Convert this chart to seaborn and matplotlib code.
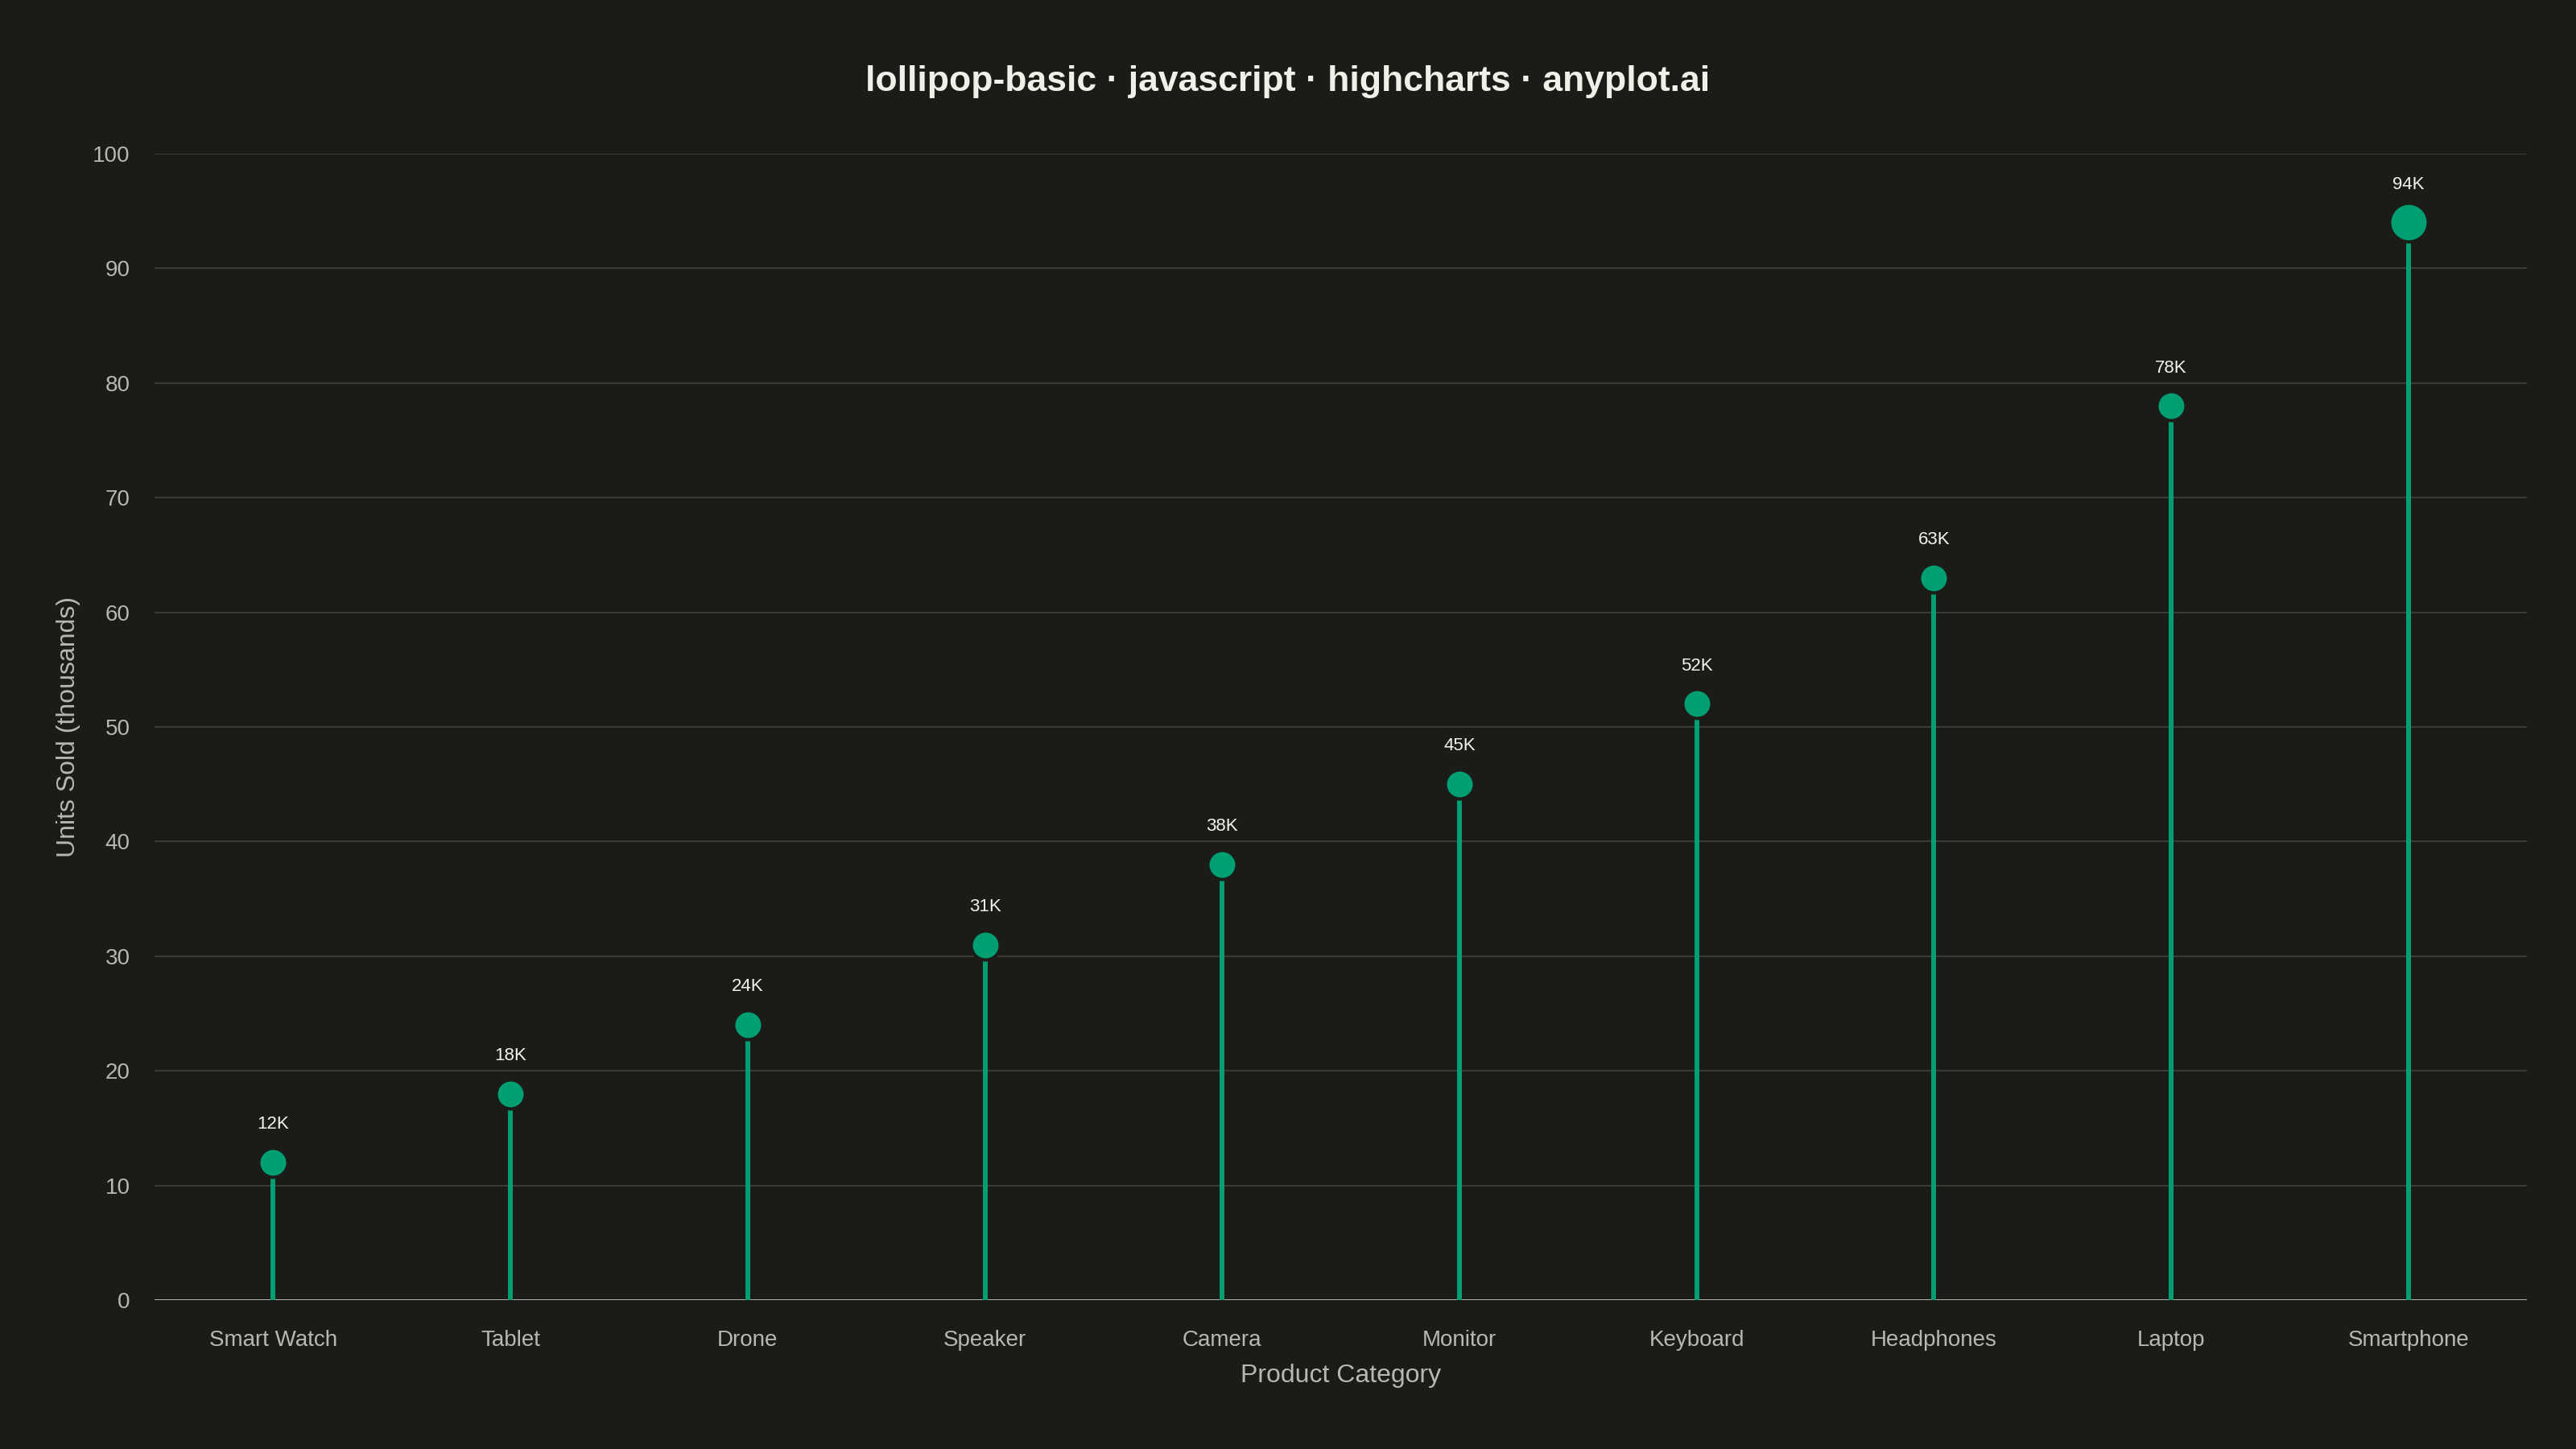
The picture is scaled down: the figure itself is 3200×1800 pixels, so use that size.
import matplotlib
matplotlib.use('Agg')
import matplotlib.pyplot as plt
import seaborn as sns
import pandas as pd

# data
categories = ['Smart Watch', 'Tablet', 'Drone', 'Speaker', 'Camera',
              'Monitor', 'Keyboard', 'Headphones', 'Laptop', 'Smartphone']
units_sold = [12, 18, 24, 31, 38, 45, 52, 63, 78, 94]
y_ticks = [0, 10, 20, 30, 40, 50, 60, 70, 80, 90, 100]

df = pd.DataFrame({'categoria': categories, 'unidades': units_sold})
df['x'] = range(len(df))
df['rotulo'] = [f'{v}K' for v in units_sold]
df['destaque'] = df['unidades'] == df['unidades'].max()

# cores
fundo = '#1b1b17'
verde = '#009e73'
grade = '#3a3a36'
texto = '#b8b8b0'
titulo = '#f0efe8'

sns.set_theme(style='dark')
plt.rcParams['font.family'] = ['Liberation Sans', 'DejaVu Sans']

fig = plt.figure(figsize=(32, 18), dpi=100, facecolor=fundo)
ax = fig.add_axes([0.06, 0.1028, 0.921, 0.7911])
ax.set_facecolor(fundo)

# grade horizontal
for t in y_ticks[1:]:
    ax.axhline(t, color=grade, linewidth=1.44, zorder=0)
ax.axhline(0, color='#b0b0a8', linewidth=1.44, zorder=1)

# hastes
ax.vlines(df['x'], 0, df['unidades'], color=verde, linewidth=4.3, zorder=2)

# pontos
normais = df[~df['destaque']]
maior = df[df['destaque']]
sns.scatterplot(data=normais, x='x', y='unidades', s=672, color=verde,
                edgecolor=fundo, linewidth=2.88, zorder=3, ax=ax, legend=False)
sns.scatterplot(data=maior, x='x', y='unidades', s=1194, color=verde,
                edgecolor=fundo, linewidth=2.88, zorder=3, ax=ax, legend=False)

# rotulos dos valores
for _, row in df.iterrows():
    ax.annotate(row['rotulo'], (row['x'], row['unidades']),
                xytext=(0, 34), textcoords='offset points',
                ha='center', va='center', fontsize=16, color='#f2f2ee', zorder=4)

ax.set_xlim(-0.5, len(categories) - 0.5)
ax.set_ylim(0, 100)
ax.set_xticks(df['x'])
ax.set_xticklabels(categories)
ax.set_yticks(y_ticks)
ax.tick_params(axis='x', length=0, pad=27, labelsize=20, labelcolor=texto)
ax.tick_params(axis='y', length=0, pad=22, labelsize=20, labelcolor=texto)
ax.grid(False)
for lado in ax.spines.values():
    lado.set_visible(False)

ax.set_xlabel('Product Category', fontsize=23, color=texto, labelpad=11)
ax.set_ylabel('Units Sold (thousands)', fontsize=23, color=texto, labelpad=11)

fig.text(0.5, 0.9434, 'lollipop-basic · javascript · highcharts · anyplot.ai',
         ha='center', va='center', fontsize=32, fontweight='bold', color=titulo)

fig.savefig('out.png', dpi=100, facecolor=fundo)
